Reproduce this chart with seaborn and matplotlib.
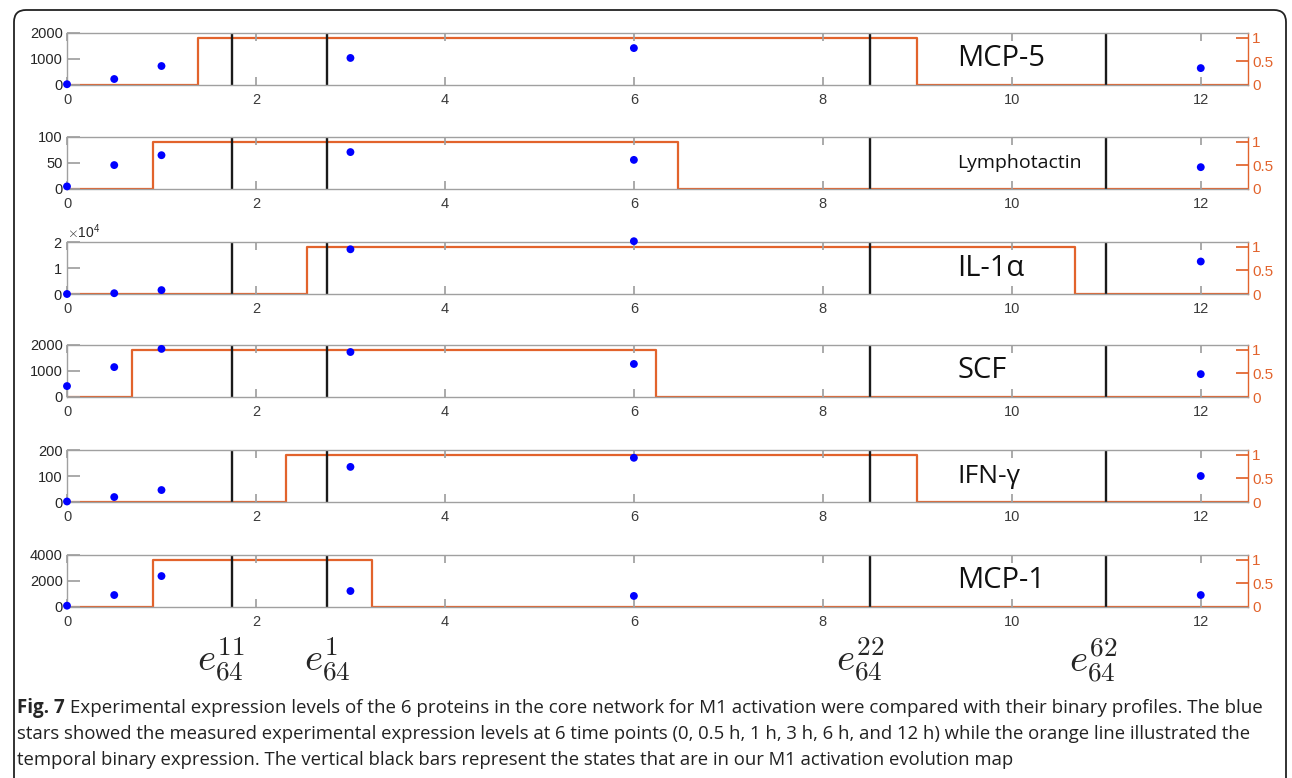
import numpy as np
import pandas as pd
import seaborn as sns
import matplotlib
matplotlib.use("Agg")
import matplotlib.pyplot as plt
from matplotlib.patches import FancyBboxPatch
from matplotlib.ticker import ScalarFormatter
from matplotlib.transforms import IdentityTransform

# measured expression levels at the six time points (h)
time_points = [0, 0.5, 1, 3, 6, 12]
proteins = ["MCP-5", "Lymphotactin", "IL-1α", "SCF", "IFN-γ", "MCP-1"]
mcp5 = [30, 230, 730, 1040, 1420, 650]
lymphotactin = [5, 46, 65, 71, 56, 42]
il1a = [0, 300, 1500, 17200, 20300, 12500]
scf = [420, 1150, 1850, 1730, 1270, 880]
ifng = [2, 19, 46, 135, 170, 100]
mcp1 = [100, 920, 2380, 1230, 850, 920]
levels = [mcp5, lymphotactin, il1a, scf, ifng, mcp1]

# binary profile: switched on / off times
on_times = [1.39, 0.91, 2.54, 0.69, 2.32, 0.91]
off_times = [9.0, 6.47, 10.67, 6.23, 9.0, 3.23]
left_max = [2000, 100, 20000, 2000, 200, 4000]

# states of the activation evolution map
state_times = [1.75, 2.75, 8.5, 11.0]
state_labels = [r"$e_{64}^{11}$", r"$e_{64}^{1}$", r"$e_{64}^{22}$", r"$e_{64}^{62}$"]

caption_bold = "Fig. 7"
caption_lines = [
    " Experimental expression levels of the 6 proteins in the core network for M1 activation were compared with their binary profiles. The blue",
    "stars showed the measured experimental expression levels at 6 time points (0, 0.5 h, 1 h, 3 h, 6 h, and 12 h) while the orange line illustrated the",
    "temporal binary expression. The vertical black bars represent the states that are in our M1 activation evolution map",
]

sns.set_theme(style="white")
plt.rcParams["font.family"] = ["Liberation Sans", "DejaVu Sans"]
plt.rcParams["mathtext.fontset"] = "cm"

orange = "#E2632C"
gray = "#A0A0A0"
W, H = 1292, 778
fig = plt.figure(figsize=(W / 100, H / 100), dpi=100)
fig.patch.set_facecolor("white")

panel_tops = [33, 137, 242, 345, 450, 555]
ph = 52
x_left, x_right = 67, 1248
label_sizes = [21, 14, 21, 21, 19, 21]

for i, name in enumerate(proteins):
    top = panel_tops[i]
    ax = fig.add_axes([x_left / W, 1 - (top + ph) / H, (x_right - x_left) / W, ph / H])
    ax2 = ax.twinx()
    ax.set_zorder(ax2.get_zorder() + 1)
    ax.patch.set_visible(False)

    step = pd.DataFrame({"t": [0, on_times[i], off_times[i], 12.5], "v": [0, 1, 0, 0]})
    sns.lineplot(data=step, x="t", y="v", ax=ax2, color=orange, lw=1.6,
                 drawstyle="steps-post", errorbar=None)

    for st in state_times:
        ax.axvline(st, color="#1a1a1a", lw=1.7, zorder=2)

    df = pd.DataFrame({"t": time_points, "v": levels[i]})
    sns.scatterplot(data=df, x="t", y="v", ax=ax, color="#0000FF", s=32,
                    edgecolor="none", zorder=3, clip_on=False)

    ax.set_xlim(0, 12.5)
    ax.set_ylim(0, left_max[i])
    ax2.set_ylim(0, 1.1)
    ax.set_xticks(range(0, 13, 2))
    ax.set_yticks([0, left_max[i] / 2, left_max[i]])
    if left_max[i] >= 10000:
        fmt = ScalarFormatter(useMathText=True)
        fmt.set_powerlimits((0, 0))
        ax.yaxis.set_major_formatter(fmt)
        ax.yaxis.get_offset_text().set_fontsize(10)
        ax.yaxis.get_offset_text().set_color("#333333")
    else:
        ax.set_yticklabels([f"{int(v)}" for v in ax.get_yticks()])
    ax2.set_yticks([0, 0.5, 1])
    ax2.set_yticklabels(["0", "0.5", "1"])
    ax.set_xlabel("")
    ax.set_ylabel("")
    ax2.set_xlabel("")
    ax2.set_ylabel("")

    ax.tick_params(axis="x", direction="in", top=True, bottom=True, length=6,
                   color=gray, labelsize=10.5, labelcolor="#3a3a3a", pad=6)
    ax.tick_params(axis="y", direction="in", length=9, color=gray,
                   labelsize=10.5, labelcolor="#262626", pad=3)
    ax2.tick_params(axis="y", direction="in", length=9, color=orange,
                    labelsize=11, labelcolor=orange, pad=3)
    ax2.tick_params(axis="x", bottom=False, top=False, labelbottom=False)

    for sp in ["left", "top", "bottom"]:
        ax.spines[sp].set_color(gray)
        ax.spines[sp].set_linewidth(1.0)
        ax2.spines[sp].set_visible(False)
    ax.spines["right"].set_visible(False)
    ax2.spines["right"].set_color(orange)
    ax2.spines["right"].set_linewidth(1.0)

    ax.text(9.42, left_max[i] * 0.5, name, fontsize=label_sizes[i], ha="left",
            va="center", family=["Open Sans", "DejaVu Sans"], color="#111111", zorder=4)

# state labels under the panels, set slightly left of their bars as in the figure
label_x = [1.63, 2.75, 8.39, 10.86]
lab_ax = fig.add_axes([x_left / W, 1 - 680 / H, (x_right - x_left) / W, 40 / H])
lab_ax.set_xlim(0, 12.5)
lab_ax.set_ylim(0, 1)
lab_ax.axis("off")
for lx, lab in zip(label_x, state_labels):
    lab_ax.text(lx, 0.5, lab, fontsize=28, ha="center", va="center")

# caption
fig.canvas.draw()
cap_font = ["Liberation Sans Narrow", "Open Sans"]
t0 = fig.text(17 / W, 1 - 708 / H, caption_bold, fontsize=13.5, fontweight="bold",
              va="center", ha="left", family=cap_font)
bb = t0.get_window_extent(fig.canvas.get_renderer())
fig.text(bb.x1 / W, 1 - 708 / H, caption_lines[0], fontsize=13.5, va="center", ha="left",
         color="#222222", family=cap_font)
for k, line in enumerate(caption_lines[1:]):
    fig.text(17 / W, 1 - (734 + 26 * k) / H, line, fontsize=13.3, va="center", ha="left",
             color="#222222", family=cap_font)

border = FancyBboxPatch((14, -30), 1272, H - 10 + 30, boxstyle="round,pad=0,rounding_size=12",
                        transform=IdentityTransform(), fill=False, edgecolor="#222222", lw=1.3)
fig.patches.append(border)

fig.savefig("out.png", dpi=100)
